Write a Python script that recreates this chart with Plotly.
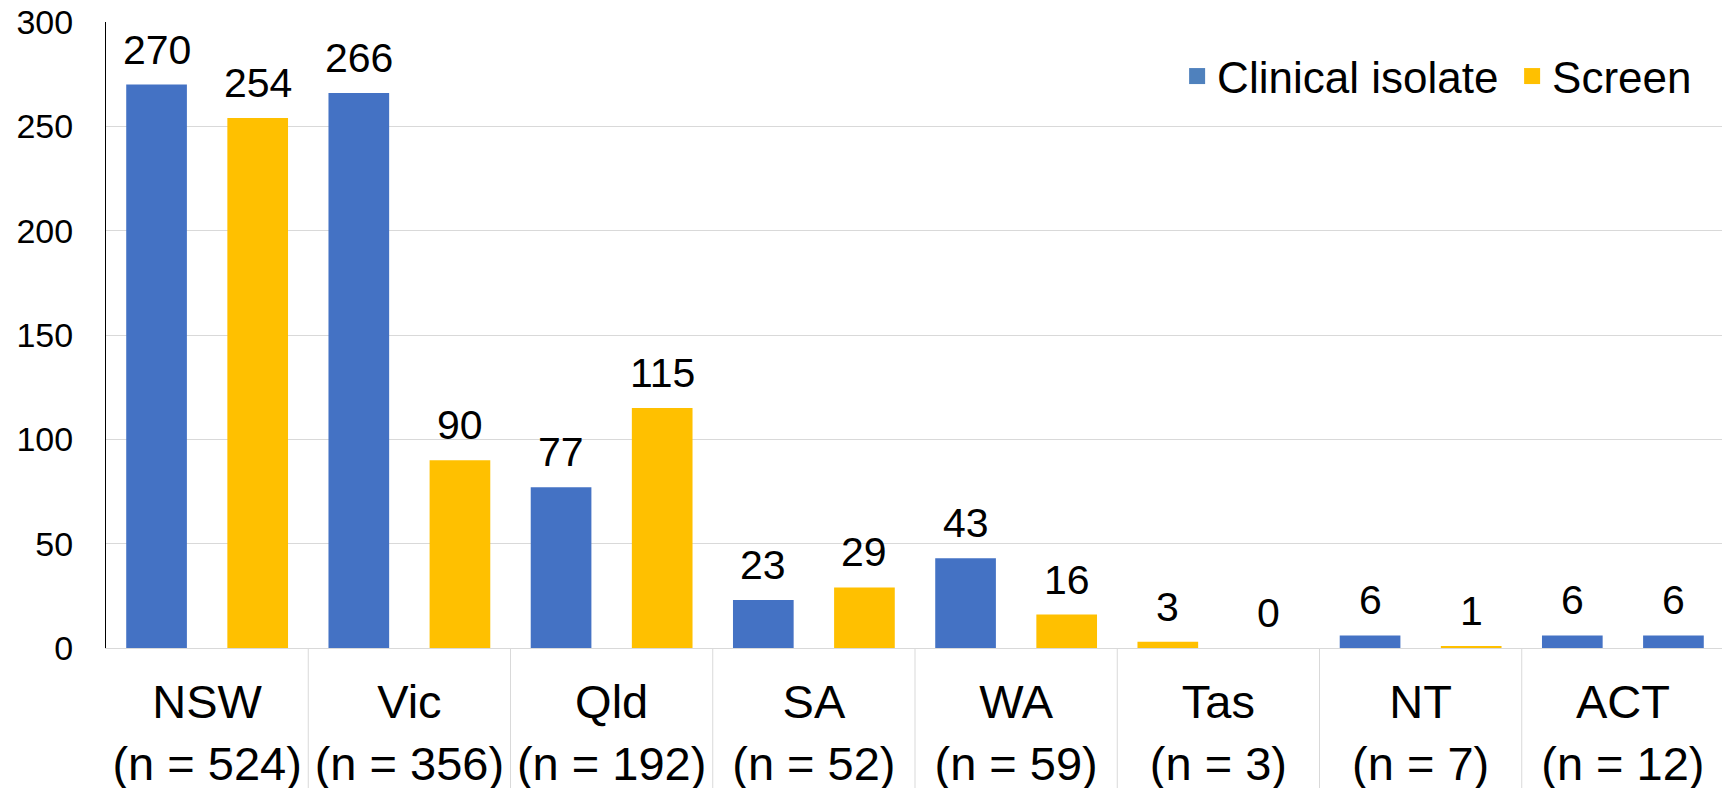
import plotly.graph_objects as go

# ─── data ────────────────────────────────────────────────────────────────
states = ["NSW", "Vic", "Qld", "SA", "WA", "Tas", "NT", "ACT"]
totals = [524, 356, 192, 52, 59, 3, 7, 12]
clinical = [270, 266, 77, 23, 43, 3, 6, 6]
screen = [254, 90, 115, 29, 16, 0, 1, 6]
y_ticks = [0, 50, 100, 150, 200, 250, 300]

BLUE = "#4472C4"
YELLOW = "#FFC000"
GRID = "#d9d9d9"
FONT = "Arial, Liberation Sans, sans-serif"

# the source chart draws a couple of bars in the "wrong" colour; keep that
clin_colors = [YELLOW if s == "Tas" else BLUE for s in states]
scr_colors = [BLUE if s == "ACT" else YELLOW for s in states]

cats = [f"{s}<br>(n = {n})" for s, n in zip(states, totals)]

fig = go.Figure()
fig.add_trace(go.Bar(x=cats, y=clinical, name="Clinical isolate",
                     marker_color=clin_colors, marker_line_width=0,
                     showlegend=False, hoverinfo="y"))
fig.add_trace(go.Bar(x=cats, y=screen, name="Screen",
                     marker_color=scr_colors, marker_line_width=0,
                     showlegend=False, hoverinfo="y"))

# legend entries with bigger square swatches
for name, col in [("Clinical isolate", "#4F81BD"), ("Screen", YELLOW)]:
    fig.add_trace(go.Scatter(x=[None], y=[None], mode="markers", name=name,
                             marker=dict(symbol="square", size=21, color=col)))

# value labels above each bar
for i in range(len(states)):
    for off, vals in [(-0.25, clinical), (0.25, screen)]:
        fig.add_annotation(x=i + off, y=vals[i], text=str(vals[i]),
                           showarrow=False, yanchor="bottom", yshift=10,
                           font=dict(size=41, color="black", family=FONT))

# category separators below the axis
for i in range(len(states) - 1):
    fig.add_shape(type="line", xref="x", yref="paper",
                  x0=i + 0.5, x1=i + 0.5, y0=0, y1=-0.24,
                  line=dict(color=GRID, width=1))

# page body has an 8px margin, so the figure is sized/offset for that
fig.update_layout(
    width=1722, height=780,
    paper_bgcolor="white", plot_bgcolor="white",
    margin=dict(l=98, r=6, t=14, b=140, autoexpand=False),
    barmode="group", bargap=0, bargroupgap=0.4,
    font=dict(family=FONT, color="black"),
    showlegend=True,
    legend=dict(orientation="h", x=0.662, xanchor="left", y=0.913, yanchor="middle",
                font=dict(size=44, color="black", family=FONT),
                bgcolor="rgba(0,0,0,0)", itemwidth=30, entrywidth=290),
    xaxis=dict(showgrid=False, showline=True, linecolor=GRID, linewidth=1,
               tickfont=dict(size=47, color="black", family=FONT),
               ticks="", ticklabelstandoff=13, automargin=False),
    yaxis=dict(range=[0, 300], tickvals=y_ticks, showgrid=True, gridcolor=GRID,
               gridwidth=1, zeroline=False, showline=True, linecolor="black",
               linewidth=1, tickfont=dict(size=34, color="black", family=FONT),
               ticks="", ticklabelstandoff=25, automargin=False,
               ticklabeloverflow="allow"),
)

fig.write_html("out.html")
